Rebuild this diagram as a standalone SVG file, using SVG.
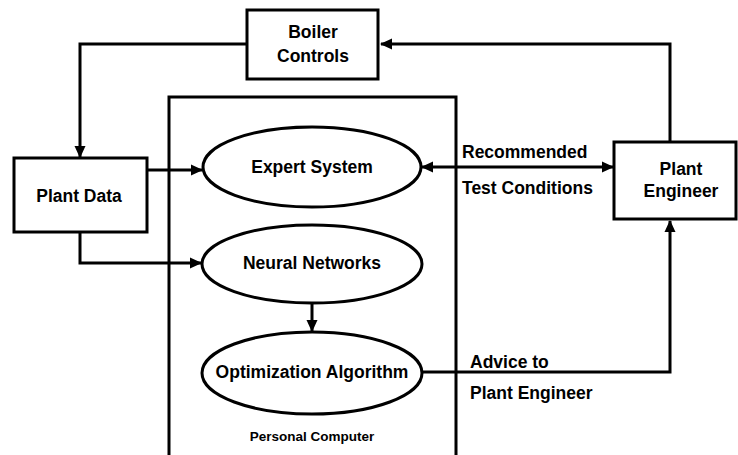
<svg xmlns="http://www.w3.org/2000/svg" width="738" height="455" viewBox="0 0 738 455">
<defs>
<marker id="ah" markerUnits="userSpaceOnUse" markerWidth="12" markerHeight="12" viewBox="0 0 12 12" refX="11" refY="6" orient="auto-start-reverse">
<path d="M0,0.5 L12,6 L0,11.5 Z" fill="#000"/>
</marker>
</defs>
<style>
.box{fill:#fff;stroke:#000;stroke-width:3}
.ell{fill:#fff;stroke:#000;stroke-width:3}
.pc{fill:none;stroke:#000;stroke-width:3}
.c{fill:none;stroke:#000;stroke-width:3;marker-end:url(#ah)}
.t{font-family:"Liberation Sans",Arial,sans-serif;font-weight:bold;font-size:17.5px;fill:#000}
.m{text-anchor:middle}
.s{font-size:13.5px}
</style>
<g id="personal-computer">
<path class="pc" d="M169,470 V97 H456 V470"/>
<text class="t m s" x="312" y="441">Personal Computer</text>
</g>
<g id="connectors">
<path class="c" d="M247,44 H80 V157"/>
<path class="c" d="M670,142 V44 H381"/>
<path class="c" d="M147,170 H202"/>
<path class="c" d="M80,232 V263 H201"/>
<path class="c" d="M312,303 V331"/>
<path class="c" d="M422,167 H613" style="marker-start:url(#ah)"/>
<path class="c" d="M423,372 H670 V221"/>
</g>
<g id="boiler-controls">
<rect class="box" x="247" y="10" width="131" height="69"/>
<text class="t m" x="313" y="38">Boiler</text>
<text class="t m" x="313" y="62">Controls</text>
</g>
<g id="plant-data">
<rect class="box" x="14" y="158" width="133" height="74"/>
<text class="t m" x="79" y="202">Plant Data</text>
</g>
<g id="plant-engineer">
<rect class="box" x="614" y="142" width="122" height="77"/>
<text class="t m" x="681" y="175">Plant</text>
<text class="t m" x="681" y="197">Engineer</text>
</g>
<g id="expert-system">
<ellipse class="ell" cx="312" cy="167" rx="109" ry="40"/>
<text class="t m" x="312" y="173">Expert System</text>
</g>
<g id="neural-networks">
<ellipse class="ell" cx="312" cy="264" rx="110" ry="39"/>
<text class="t m" x="312" y="269">Neural Networks</text>
</g>
<g id="optimization-algorithm">
<ellipse class="ell" cx="312" cy="373" rx="110" ry="41"/>
<text class="t m" x="312" y="378">Optimization Algorithm</text>
</g>
<g id="labels">
<text class="t" x="462" y="158">Recommended</text>
<text class="t" x="462" y="194">Test Conditions</text>
<text class="t" x="470" y="368">Advice to</text>
<text class="t" x="470" y="399">Plant Engineer</text>
</g>
</svg>
